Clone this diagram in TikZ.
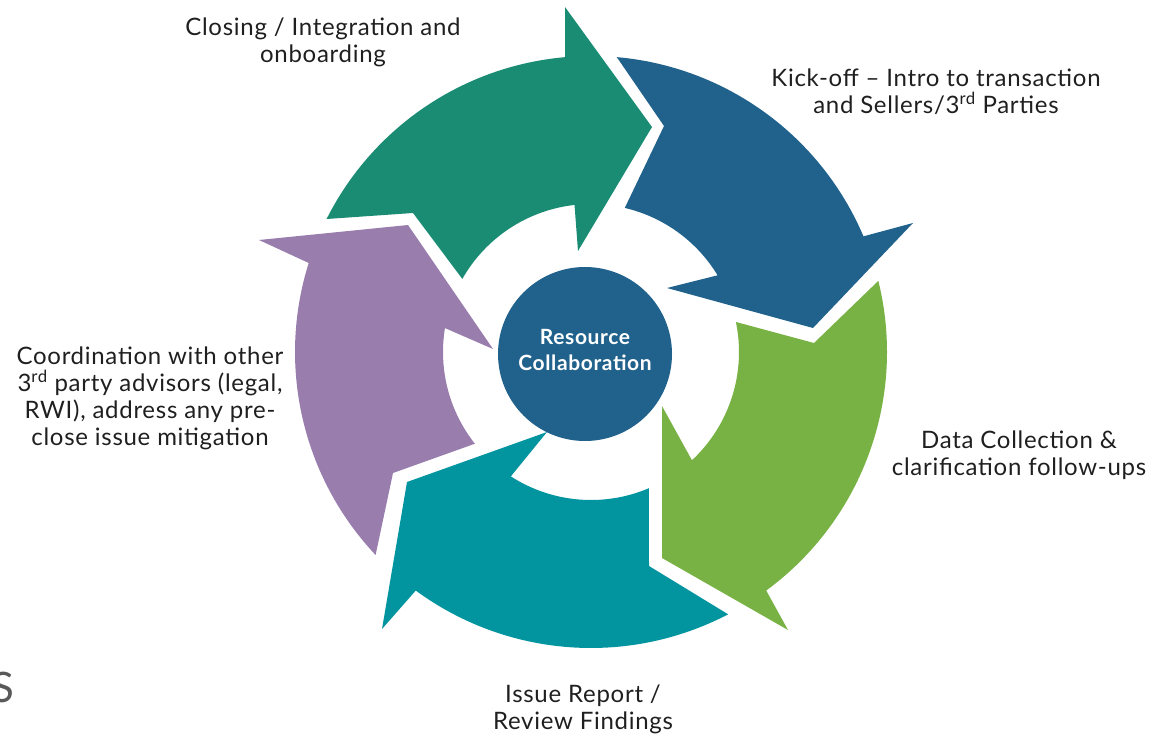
\documentclass[tikz,border=0pt]{standalone}
\usepackage{fontspec}
\setmainfont{Lato}[LetterSpace=3]
\usetikzlibrary{calc}
\definecolor{closegreen}{HTML}{1A8C73}
\definecolor{kickblue}{HTML}{21628C}
\definecolor{datagreen}{HTML}{78B144}
\definecolor{issueteal}{HTML}{03959F}
\definecolor{coordpurple}{HTML}{987DAD}
\begin{document}
\begin{tikzpicture}[x=1pt,y=-1pt,
	desc/.style={align=center,inner sep=0,text=black!88,font=\fontsize{24}{27}\selectfont},
	hub/.style={circle,fill=kickblue,minimum size=174pt,inner sep=0,align=center,text depth=8pt,
	text=white,font=\fontsize{21}{26}\selectfont\bfseries}]
\useasboundingbox (0,0) rectangle (1170,735);
\coordinate (c) at (591,352);
\fill[closegreen] ($(c)+(-153.3:296)$) arc[start angle=-153.3,end angle=-95,radius=296]
	-- (565,7) -- (652,127) -- (578,251)
	-- ($(c)+(-96.4:148)$) arc[start angle=-96.4,end angle=-150.4,radius=148]
	-- (413,213) -- cycle;
\fill[kickblue] ($(c)+(-85:296)$) arc[start angle=-85,end angle=-23,radius=296]
	-- (913,223) -- (813,328) -- (667,288)
	-- ($(c)+(-31.2:148)$) arc[start angle=-31.2,end angle=-76.8,radius=148]
	-- (664,126) -- cycle;
\fill[datagreen] ($(c)+(-13.9:296)$) arc[start angle=-13.9,end angle=53.7,radius=296]
	-- (788,630) -- (662,558) -- (662,406)
	-- ($(c)+(47:148)$) arc[start angle=47,end angle=-11.7,radius=148]
	-- (814,343) -- cycle;
\fill[issueteal] ($(c)+(62.4:296)$) arc[start angle=62.4,end angle=126.3,radius=296]
	-- (382,629) -- (407,482) -- (547,432)
	-- ($(c)+(122.8:148)$) arc[start angle=122.8,end angle=67,radius=148]
	-- (649,566) -- cycle;
\fill[coordpurple] ($(c)+(136.7:296)$) arc[start angle=136.7,end angle=197.5,radius=296]
	-- (259,240) -- (408,225) -- (493,349)
	-- ($(c)+(189.3:148)$) arc[start angle=189.3,end angle=141.7,radius=148]
	-- (393,473) -- cycle;
\node[hub] (core) at (585,354) {Resource\\Collaboration};
\node[desc] (closing) at (323,42) {Closing / Integration and\\onboarding};
\node[desc] (kickoff) at (936,92) {Kick-off -- Intro to transaction\\and Sellers/3\textsuperscript{rd} Parties};
\node[desc] (data) at (1019,455) {Data Collection \&\\clarification follow-ups};
\node[desc] (issue) at (583,709) {Issue Report /\\Review Findings};
\node[desc] (coord) at (150,398) {Coordination with other\\3\textsuperscript{rd} party advisors (legal,\\RWI), address any pre-\\close issue mitigation};
\node[anchor=base,inner sep=0,text=black!65,font=\fontsize{42}{42}\selectfont] (edge) at (3,702) {S};
\end{tikzpicture}
\end{document}
